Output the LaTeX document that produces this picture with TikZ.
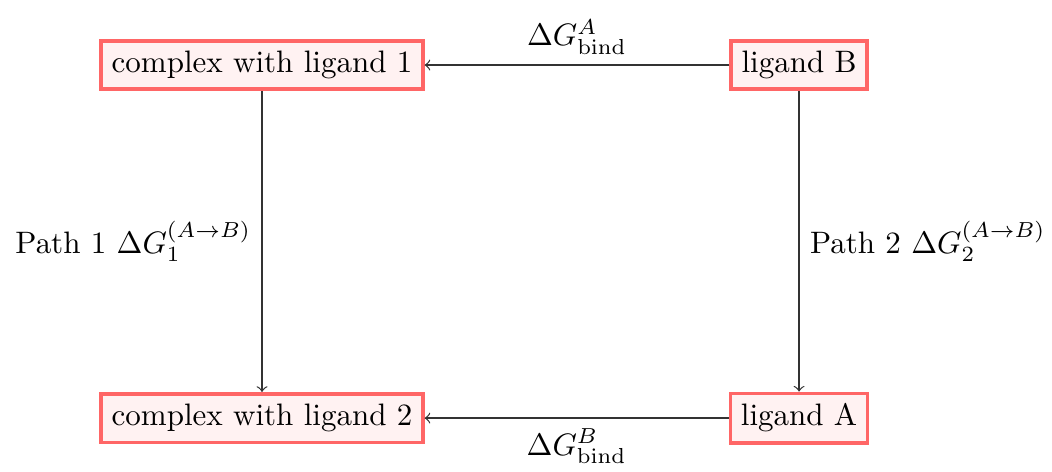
\documentclass[tikz,border=0pt]{standalone}
\usetikzlibrary{arrows}
\begin{document}
\begin{tikzpicture}[
  statebox/.style={draw=red!60, fill=red!5, very thick},
  conn/.style={->, draw=black!80}
]
\useasboundingbox (0,0) rectangle (11.92,-5.337);
\node[statebox] (c1) at (2.969,-0.737) {complex with ligand 1};
\node[statebox] (lB) at (9.054,-0.737) {ligand B};
\node[statebox] (c2) at (2.969,-4.737) {complex with ligand 2};
\node[statebox] (lA) at (9.054,-4.737) {ligand A};
\draw[conn] (lB) -- node[above, text=black] {$\Delta G^{A}_{\mathrm{bind}}$} (c1);
\draw[conn] (lA) -- node[below, text=black] {$\Delta G^{B}_{\mathrm{bind}}$} (c2);
\draw[conn] (c1) -- node[left, text=black] {Path 1 $\Delta G^{(A\rightarrow B)}_1$} (c2);
\draw[conn] (lB) -- node[right, text=black] {Path 2 $\Delta G^{(A\rightarrow B)}_2$} (lA);
\end{tikzpicture}
\end{document}
